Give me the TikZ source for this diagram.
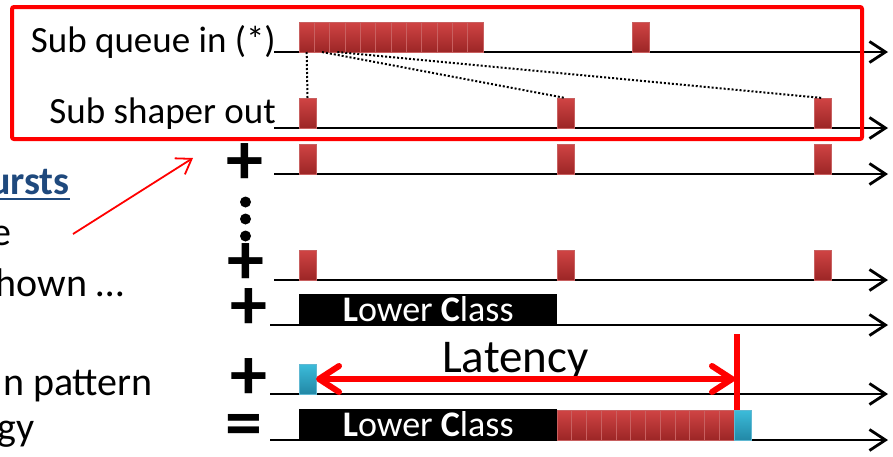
\documentclass[tikz,border=0pt]{standalone}
\usepackage{fontspec}
\setmainfont{Carlito}
\usepackage{xcolor}
\usetikzlibrary{arrows.meta,positioning}

\definecolor{burstlt}{RGB}{208,68,68}
\definecolor{burstdk}{RGB}{156,38,38}
\definecolor{burstedge}{RGB}{200,96,96}
\definecolor{pktlt}{RGB}{60,188,218}
\definecolor{pktdk}{RGB}{34,136,166}
\definecolor{pktedge}{RGB}{96,184,210}
\definecolor{slideblue}{RGB}{31,73,125}
\definecolor{pptred}{RGB}{255,0,0}

\begin{document}
\begin{tikzpicture}[x=1pt,y=-1pt,
  axis/.style={line width=2.4pt,-{Straight Barb[length=16pt,width=21pt,line width=2.8pt]}},
  burst/.style={draw=burstedge,line width=0.8pt,top color=burstlt,bottom color=burstdk,
                minimum width=17pt,minimum height=30pt,inner sep=0pt,outer sep=0pt,anchor=south west},
  seg/.style={burst,minimum width=#1},
  pkt/.style={burst,draw=pktedge,top color=pktlt,bottom color=pktdk},
  lowerbox/.style={fill=black,text=white,minimum height=31pt,inner sep=0pt,anchor=south west,
                   font=\fontsize{36}{38}\selectfont},
  lbl/.style={anchor=base east,inner sep=0pt,font=\fontsize{37}{40}\selectfont},
  side/.style={anchor=base east,inner sep=0pt,font=\fontsize{40}{44}\selectfont},
  opsign/.style={inner sep=0pt,font=\fontsize{74}{74}\selectfont\bfseries},
  dots/.style={dash pattern=on 2pt off 2pt,line width=2pt},
  latarr/.style={pptred,line width=6pt,
                 {Straight Barb[round,length=20pt,width=26pt]}-{Straight Barb[round,length=20pt,width=26pt]}}
]
\useasboundingbox (0,0) rectangle (893,456);
% Time axes
\foreach \y/\x in {52/274,128/274,174/274,280/274,325/270,394/270,440/270}
  \draw[axis] (\x,\y) -- (888,\y);
% Sub queue in
\foreach \i in {0,...,11}
  \node[seg=15.33pt] (q\i) at ({299+15.33*\i},52) {};
\node[burst] (qlate) at (632,52) {};
% Sub shaper out
\node[burst] (o1) at (299,128) {};
\node[burst] (o2) at (557,128) {};
\node[burst] (o3) at (814,128) {};
% Other sub shapers
\node[burst] (a1) at (299,174) {};
\node[burst] (a2) at (557,174) {};
\node[burst] (a3) at (814,174) {};
\node[burst] (b1) at (299,280) {};
\node[burst] (b2) at (557,280) {};
\node[burst] (b3) at (814,280) {};
% Lower class
\node[lowerbox,minimum width=258pt] (low5) at (299,325) {\textbf{L}ower \textbf{C}lass};
% Packet
\node[pkt] (pk6) at (299,394) {};
% Sum
\node[lowerbox,minimum width=258pt] (low7) at (299,440) {\textbf{L}ower \textbf{C}lass};
\foreach \i in {0,...,11}
  \node[seg=14.75pt] (m\i) at ({557+14.75*\i},440) {};
\node[pkt] (pk7) at (734,440) {};
% Shaping links
\draw[dots] (q0.south) -- (o1.north);
\draw[dots] (q1.south) -- (o2.north);
\draw[dots] (q2.south) -- (o3.north);
% Highlight
\draw[pptred,line width=4pt,rounded corners=2pt] (12,7) rectangle (862,139);
\node[lbl] (qin) at (276,52) {Sub queue in (*)};
\node[lbl] (sout) at (276,123) {Sub shaper out};
% Operators
\node[opsign] (p3) at (244.5,164.5) {+};
\node[opsign] (p4) at (246,264.5) {+};
\node[opsign] (p5) at (249,309.5) {+};
\node[opsign] (p6) at (249,379.5) {+};
\node[opsign] (eq) at (244,431) {=};
\foreach \y in {202,219,236}
  \fill (245.5,\y) circle (5.5pt);
% Latency
\node[anchor=base west,inner sep=0pt,font=\fontsize{47}{50}\selectfont] (lat) at (442,372) {Latency};
\coordinate (latline) at (737,334);
\draw[pptred,line width=6.5pt] (latline) -- (latline |- pk7.north);
\draw[latarr] (pk6.east) -- ([xshift=-2pt]pk6.east -| latline);
% Slide text, cut at the edge
\node[side,text=slideblue,font=\fontsize{40}{44}\selectfont\bfseries] (bursts) at (70,194) {ursts};
\draw[slideblue,line width=2.5pt] ([yshift=-5pt]bursts.base west) -- ([yshift=-5pt]bursts.base east);
\node[side] (l1) at (12,245) {e};
\node[side] (l2) at (124,296) {hown …};
\node[side] (l3) at (153,395) {n pattern};
\node[side] (l4) at (35,440) {gy};
\coordinate (ptail) at (73,234);
\coordinate (phead) at (193,158);
\draw[pptred,line width=1.8pt,-{Straight Barb[length=14pt,width=19pt]}] (ptail) -- (phead);
\end{tikzpicture}
\end{document}
